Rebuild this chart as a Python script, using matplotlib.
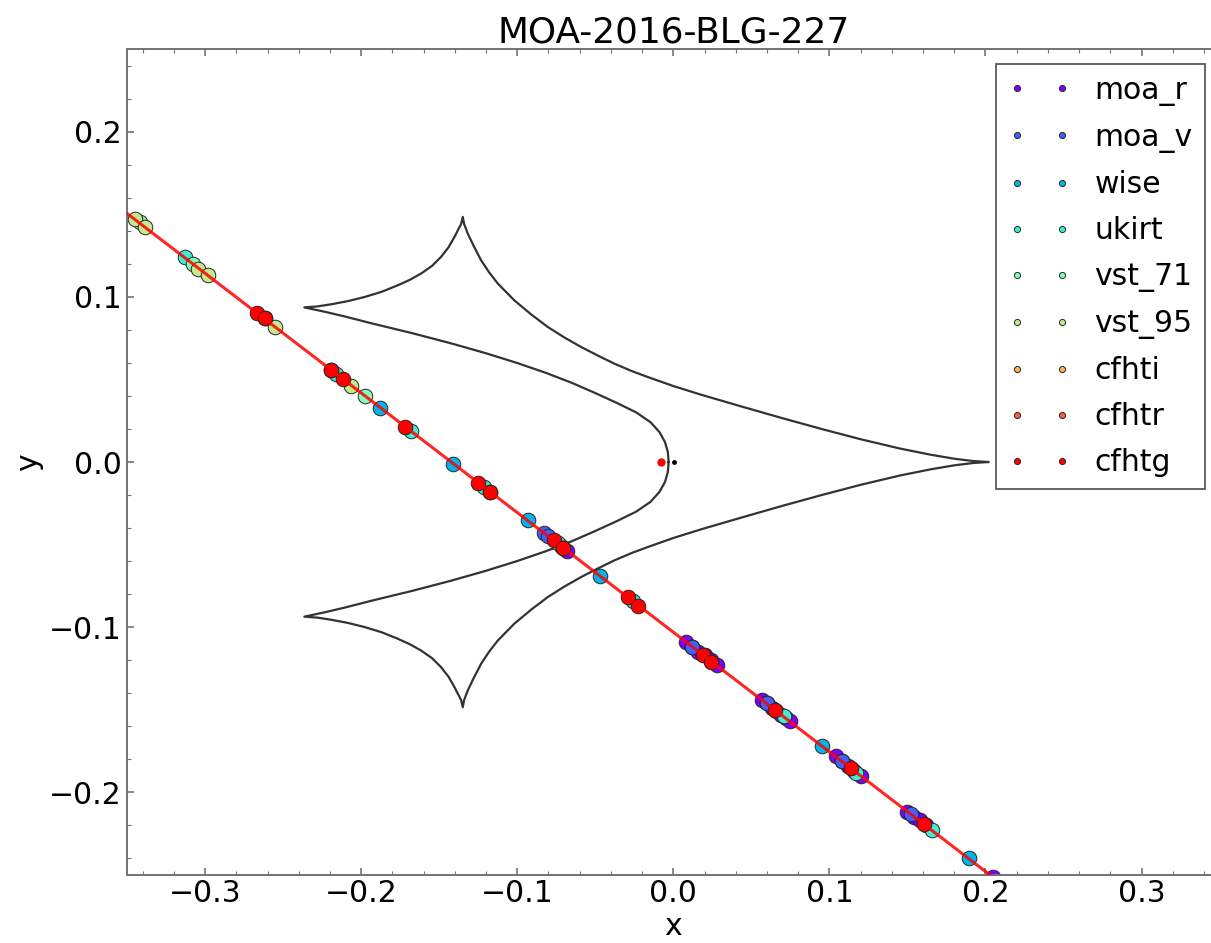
import numpy as np
import matplotlib
matplotlib.use("Agg")
import matplotlib.pyplot as plt
from matplotlib.ticker import MultipleLocator

# caustic, upper half (lower half is the mirror image in y)
# inner fold: nose on the x axis -> upper-left cusp
inner_x = [-0.0030, -0.0035, -0.0053, -0.0088, -0.0145, -0.0237, -0.0367, -0.0506, -0.0652,
           -0.0817, -0.1002, -0.1206, -0.1430, -0.1673, -0.1935, -0.2100, -0.2235, -0.2364]
inner_y = [0.0000, 0.0060, 0.0120, 0.0180, 0.0240, 0.0300, 0.0360, 0.0420, 0.0480,
           0.0540, 0.0600, 0.0660, 0.0720, 0.0780, 0.0840, 0.0880, 0.0910, 0.0936]
# upper-left cusp -> top cusp
left_x = [-0.2364, -0.2280, -0.2191, -0.2085, -0.1978, -0.1870, -0.1765, -0.1690, -0.1616,
          -0.1545, -0.1488, -0.1440, -0.1402, -0.1360, -0.1349]
left_y = [0.0936, 0.0942, 0.0955, 0.0974, 0.0999, 0.1030, 0.1070, 0.1102, 0.1141,
          0.1188, 0.1242, 0.1300, 0.1363, 0.1440, 0.1484]
# top cusp -> right cusp
outer_x = [-0.1349, -0.1340, -0.1317, -0.1280, -0.1232, -0.1180, -0.1125, -0.1019, -0.0910,
           -0.0805, -0.0700, -0.0592, -0.0485, -0.0379, -0.0270, -0.0165, 0.0000, 0.0176,
           0.0430, 0.0700, 0.0950, 0.1200, 0.1450, 0.1650, 0.1800, 0.1920, 0.2021]
outer_y = [0.1484, 0.1440, 0.1383, 0.1310, 0.1222, 0.1148, 0.1081, 0.0979, 0.0893,
           0.0818, 0.0755, 0.0697, 0.0645, 0.0596, 0.0552, 0.0515, 0.0460, 0.0408,
           0.0338, 0.0265, 0.0200, 0.0138, 0.0082, 0.0044, 0.0020, 0.0006, 0.0000]

# source trajectory
traj_x = [-0.36, 0.21]
traj_y = [0.1577, -0.2551]

# small markers near the nose
lens_red = (-0.008, 0.0)
lens_black = (0.0005, 0.0)

labels = ['moa_r', 'moa_v', 'wise', 'ukirt', 'vst_71', 'vst_95', 'cfhti', 'cfhtr', 'cfhtg']

moa_r_x = [-0.072, -0.068, 0.008, 0.012, 0.016, 0.020, 0.024, 0.028, 0.057, 0.060, 0.063, 0.066,
           0.069, 0.072, 0.075, 0.104, 0.108, 0.112, 0.116, 0.120, 0.150, 0.154, 0.158, 0.162, 0.205]
moa_r_y = [-0.051, -0.054, -0.109, -0.112, -0.115, -0.117, -0.120, -0.123, -0.144, -0.146, -0.149, -0.151,
           -0.153, -0.155, -0.157, -0.178, -0.181, -0.184, -0.187, -0.190, -0.212, -0.215, -0.217, -0.220, -0.251]
moa_v_x = [-0.083, -0.080, 0.012, 0.060, 0.108, 0.152]
moa_v_y = [-0.043, -0.045, -0.112, -0.146, -0.181, -0.213]
wise_x = [-0.1882, -0.1413, -0.0933, -0.0468, 0.0955, 0.1893]
wise_y = [0.033, -0.001, -0.035, -0.069, -0.172, -0.240]
ukirt_x = [-0.313, -0.2159, -0.168, -0.121, -0.074, -0.026, 0.071, 0.117, 0.166]
ukirt_y = [0.124, 0.053, 0.019, -0.015, -0.049, -0.084, -0.154, -0.188, -0.223]
vst71_x = [-0.342, -0.308, -0.1978]
vst71_y = [0.145, 0.120, 0.040]
vst95_x = [-0.345, -0.3385, -0.3044, -0.298, -0.2554, -0.2063]
vst95_y = [0.147, 0.142, 0.117, 0.113, 0.082, 0.046]
cfhti_x = [-0.2618, -0.1174]
cfhti_y = [0.087, -0.018]
cfhtr_x = [-0.2196, -0.0707]
cfhtr_y = [0.056, -0.052]
cfhtg_x = [-0.267, -0.2618, -0.2196, -0.2117, -0.1718, -0.1249, -0.1174, -0.0767, -0.0707,
           -0.0293, -0.0225, 0.0193, 0.0244, 0.065, 0.1136, 0.1605]
cfhtg_y = [0.090, 0.087, 0.056, 0.050, 0.021, -0.013, -0.018, -0.047, -0.052,
           -0.082, -0.087, -0.117, -0.121, -0.150, -0.185, -0.219]

series = [(moa_r_x, moa_r_y), (moa_v_x, moa_v_y), (wise_x, wise_y), (ukirt_x, ukirt_y),
          (vst71_x, vst71_y), (vst95_x, vst95_y), (cfhti_x, cfhti_y), (cfhtr_x, cfhtr_y),
          (cfhtg_x, cfhtg_y)]

plt.rcParams['font.family'] = 'DejaVu Sans'
plt.rcParams['font.size'] = 21.5

fig = plt.figure(figsize=(12.11, 9.43), dpi=100)
ax = fig.add_axes([0.1049, 0.0721, 0.9022, 0.8759])

# closed caustic: nose -> upper-left -> top -> right, then mirrored back
up_x = inner_x + left_x[1:] + outer_x[1:]
up_y = inner_y + left_y[1:] + outer_y[1:]
cx = np.array(up_x + up_x[::-1][1:])
cy = np.array(up_y + [-v for v in up_y[::-1][1:]])
ax.plot(cx, cy, color='0.2', lw=1.6, zorder=1)

colors = plt.cm.rainbow(np.linspace(0, 1, len(labels)))
for (xs, ys), lab, c in zip(series, labels, colors):
    ax.plot(xs, ys, 'o', color=c, ms=10.5, mec='0.15', mew=0.7, label=lab, zorder=2)

ax.plot(traj_x, traj_y, '-', color='r', lw=2.2, alpha=0.85, zorder=3)
ax.plot([lens_red[0]], [lens_red[1]], 'o', color='r', ms=6, mew=0, zorder=4)
ax.plot([lens_black[0]], [lens_black[1]], 'o', color='k', ms=3.5, mew=0, zorder=4)

ax.set_xlim(-0.35, 0.35)
ax.set_ylim(-0.25, 0.25)
ax.xaxis.set_major_locator(MultipleLocator(0.1))
ax.yaxis.set_major_locator(MultipleLocator(0.1))
ax.xaxis.set_minor_locator(MultipleLocator(0.02))
ax.yaxis.set_minor_locator(MultipleLocator(0.02))
ax.tick_params(which='both', direction='in', top=True, right=True, color='0.45')
ax.tick_params(which='major', length=5, width=1.2)
ax.tick_params(which='minor', length=3, width=0.8)
ax.tick_params(axis='x', pad=3)
ax.tick_params(axis='y', pad=4)
for sp in ax.spines.values():
    sp.set_color('0.45')
    sp.set_linewidth(1.4)

ax.set_title('MOA-2016-BLG-227', fontsize=25.8, pad=3)
ax.set_xlabel('x', labelpad=3)
ax.set_ylabel('y', labelpad=4)

leg = ax.legend(loc='upper right', numpoints=2, markerscale=0.42, fontsize=21.5,
                labelspacing=0.57, fancybox=False, framealpha=1, edgecolor='0.35',
                borderaxespad=0.5, handlelength=2.1, handletextpad=0.8)
leg.get_frame().set_linewidth(1.3)

fig.savefig('out.png', dpi=100)
